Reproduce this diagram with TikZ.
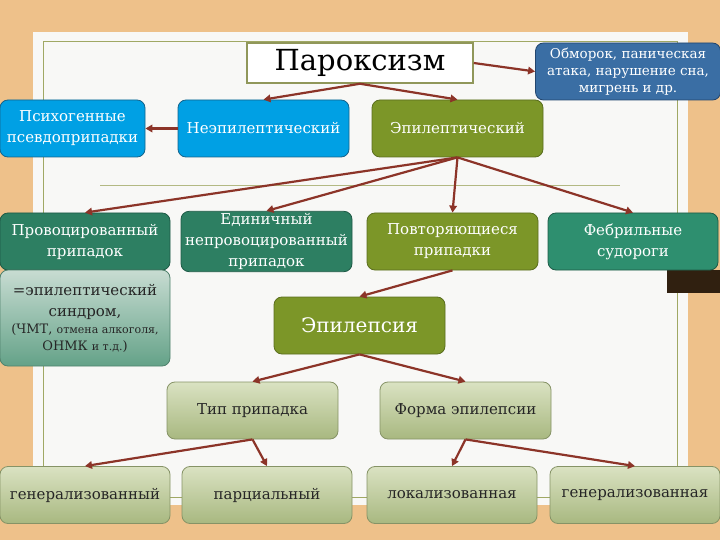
\documentclass[tikz,border=0pt]{standalone}
\usepackage{fontspec}
\setmainfont{DejaVu Serif}
\usetikzlibrary{arrows.meta}
\definecolor{wood}{RGB}{238,193,138}
\definecolor{paper}{RGB}{248,248,246}
\definecolor{frame}{RGB}{160,168,100}
\definecolor{skyb}{RGB}{0,160,228}
\definecolor{skybd}{RGB}{20,100,140}
\definecolor{steelb}{RGB}{58,110,164}
\definecolor{steelbd}{RGB}{35,70,110}
\definecolor{olive}{RGB}{124,150,40}
\definecolor{olived}{RGB}{90,110,30}
\definecolor{teal}{RGB}{45,127,98}
\definecolor{teald}{RGB}{30,90,70}
\definecolor{febr}{RGB}{46,143,111}
\definecolor{sage}{RGB}{168,184,128}
\definecolor{sagel}{RGB}{218,226,194}
\definecolor{sagem}{RGB}{200,220,210}
\definecolor{sagemd}{RGB}{100,162,136}
\definecolor{arrowred}{RGB}{140,52,40}
\begin{document}
\begin{tikzpicture}[x=1pt,y=-1pt,
  box/.style={rounded corners=8pt,minimum width=171pt,minimum height=57pt,inner sep=2pt,
    align=center,text=white,font=\fontsize{15}{21}\selectfont,line width=0.8pt},
  skybox/.style={box,fill=skyb,draw=skybd},
  olivebox/.style={box,fill=olive,draw=olived},
  tealbox/.style={box,fill=teal,draw=teald},
  sagebox/.style={box,top color=sagel,bottom color=sage,draw=sage!80!black,text=black!85},
  arr/.style={draw=arrowred,line width=2.2pt,-{Triangle[length=7pt,width=7.5pt]}}]
\useasboundingbox (0,0) rectangle (720,540);
\fill[wood] (0,0) rectangle (720,540);
\fill[paper] (33,32) rectangle (688,505);
\draw[frame,line width=1pt] (43,42) rectangle (677,497);
\draw[frame!80,line width=0.8pt] (100,185) -- (620,185);
\fill[black!75!brown] (667,270) rectangle (720,293);

\node[draw=frame!90!black,fill=white,line width=1.5pt,minimum width=226pt,minimum height=40pt,
  font=\fontsize{29}{32}\selectfont] (par) at (360,63) {Пароксизм};
\node[box,fill=steelb,draw=steelbd,minimum width=185pt,font=\fontsize{13.5}{17}\selectfont]
  (obm) at (628,71.5) {Обморок, паническая\\атака, нарушение сна,\\мигрень и др.};
\node[skybox,minimum width=145pt] (psy) at (72.5,128.5) {Психогенные\\псевдоприпадки};
\node[skybox] (neep) at (263.5,128.5) {Неэпилептический};
\node[olivebox] (ep) at (457.5,128.5) {Эпилептический};

\node[tealbox,minimum width=170pt] (prov) at (85,241.5) {Провоцированный\\припадок};
\node[tealbox] (edin) at (266.5,241.5) {Единичный\\непровоцированный\\припадок};
\node[olivebox] (povt) at (452.5,241.5) {Повторяющиеся\\припадки};
\node[box,fill=febr,draw=teald,minimum width=170pt] (feb) at (633,241.5) {Фебрильные\\судороги};

\node[box,top color=sagem,bottom color=sagemd,draw=sagemd!80!black,text=black!85,
  minimum width=170pt,minimum height=96pt] (synd) at (85,318)
  {=эпилептический\\синдром,\\[-4pt]{\fontsize{13}{15}\selectfont(ЧМТ, {\fontsize{11}{15}\selectfont отмена алкоголя,}}\\[-4pt]
   {\fontsize{13}{15}\selectfont ОНМК {\fontsize{11}{15}\selectfont и т.д.})}};
\node[olivebox,font=\fontsize{20}{24}\selectfont] (epil) at (359.5,325.5) {Эпилепсия};

\node[sagebox] (tip) at (252.5,410.5) {Тип припадка};
\node[sagebox] (form) at (465.5,410.5) {Форма эпилепсии};

\node[sagebox,minimum width=170pt] (gen) at (85,495) {генерализованный};
\node[sagebox,minimum width=170pt] (parc) at (267,495) {парциальный};
\node[sagebox,minimum width=170pt] (lok) at (452,495) {локализованная};
\node[sagebox,minimum width=170pt] (genf) at (635,495) {генерализованная};

\draw[arr] (par.east) -- (obm.west);
\draw[arr] (par.south) -- (neep.north);
\draw[arr] (par.south) -- (ep.north);
\draw[arr] (neep.west) -- (psy.east);
\draw[arr] (ep.south) -- (prov.north);
\draw[arr] (ep.south) -- (edin.north);
\draw[arr] (ep.south) -- (povt.north);
\draw[arr] (ep.south) -- (feb.north);
\draw[arr] (povt.south) -- (epil.north);
\draw[arr] (epil.south) -- (tip.north);
\draw[arr] (epil.south) -- (form.north);
\draw[arr] (tip.south) -- (gen.north);
\draw[arr] (tip.south) -- (parc.north);
\draw[arr] (form.south) -- (lok.north);
\draw[arr] (form.south) -- (genf.north);
\end{tikzpicture}
\end{document}
